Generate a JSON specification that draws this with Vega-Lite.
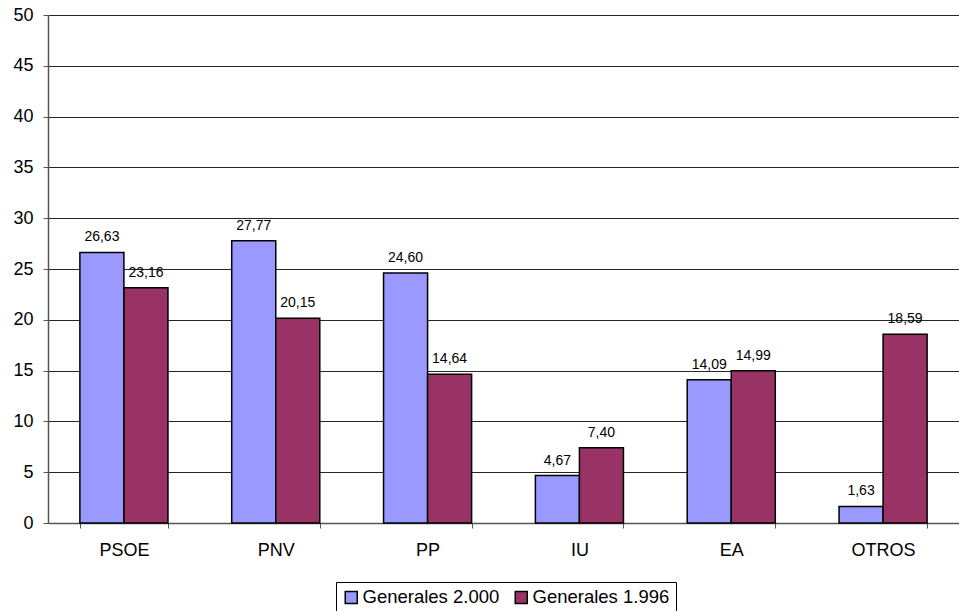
{
  "$schema": "https://vega.github.io/schema/vega-lite/v6.json",
  "width": 911,
  "height": 508,
  "autosize": {"type": "none"},
  "padding": {"left": 48, "top": 15, "right": 0, "bottom": 88},
  "background": "white",
  "config": {
    "font": "Liberation Sans",
    "view": {"stroke": null}
  },
  "data": {
    "values": [
      {"partido": "PSOE", "serie": "Generales 2.000", "valor": 26.63, "etiqueta": "26,63"},
      {"partido": "PSOE", "serie": "Generales 1.996", "valor": 23.16, "etiqueta": "23,16"},
      {"partido": "PNV", "serie": "Generales 2.000", "valor": 27.77, "etiqueta": "27,77"},
      {"partido": "PNV", "serie": "Generales 1.996", "valor": 20.15, "etiqueta": "20,15"},
      {"partido": "PP", "serie": "Generales 2.000", "valor": 24.60, "etiqueta": "24,60"},
      {"partido": "PP", "serie": "Generales 1.996", "valor": 14.64, "etiqueta": "14,64"},
      {"partido": "IU", "serie": "Generales 2.000", "valor": 4.67, "etiqueta": "4,67"},
      {"partido": "IU", "serie": "Generales 1.996", "valor": 7.40, "etiqueta": "7,40"},
      {"partido": "EA", "serie": "Generales 2.000", "valor": 14.09, "etiqueta": "14,09"},
      {"partido": "EA", "serie": "Generales 1.996", "valor": 14.99, "etiqueta": "14,99"},
      {"partido": "OTROS", "serie": "Generales 2.000", "valor": 1.63, "etiqueta": "1,63"},
      {"partido": "OTROS", "serie": "Generales 1.996", "valor": 18.59, "etiqueta": "18,59"}
    ]
  },
  "encoding": {
    "x": {
      "field": "partido",
      "type": "nominal",
      "sort": ["PSOE", "PNV", "PP", "IU", "EA", "OTROS"],
      "scale": {"paddingInner": 0.42, "paddingOuter": 0.21},
      "axis": {
        "title": null,
        "labelAngle": 0,
        "labelFontSize": 18,
        "labelColor": "black",
        "labelPadding": 13,
        "domainColor": "#555",
        "domainWidth": 1.5,
        "tickColor": "#555",
        "tickSize": 5,
        "bandPosition": 0,
        "tickBand": "extent",
        "grid": false
      }
    },
    "xOffset": {
      "field": "serie",
      "type": "nominal",
      "sort": ["Generales 2.000", "Generales 1.996"],
      "scale": {"paddingInner": 0}
    },
    "y": {
      "field": "valor",
      "type": "quantitative",
      "scale": {"domain": [0, 50]},
      "axis": {
        "title": null,
        "values": [0, 5, 10, 15, 20, 25, 30, 35, 40, 45, 50],
        "labelFontSize": 18,
        "labelColor": "black",
        "labelPadding": 10,
        "domainColor": "#555",
        "domainWidth": 1.5,
        "tickColor": "#555",
        "tickSize": 5,
        "gridColor": "black",
        "gridWidth": 1,
        "gridOpacity": 0.85
      }
    }
  },
  "layer": [
    {
      "mark": {"type": "bar", "stroke": "black", "strokeWidth": 1.5},
      "encoding": {
        "color": {
          "field": "serie",
          "type": "nominal",
          "sort": ["Generales 2.000", "Generales 1.996"],
          "scale": {"domain": ["Generales 2.000", "Generales 1.996"], "range": ["#9999FF", "#993366"]},
          "legend": {
            "title": null,
            "orient": "none",
            "direction": "horizontal",
            "legendX": 288,
            "legendY": 567,
            "symbolType": "square",
            "symbolSize": 144,
            "symbolStrokeColor": "black",
            "symbolStrokeWidth": 1.5,
            "symbolOpacity": 1,
            "labelFontSize": 18.5,
            "labelColor": "black",
            "labelOffset": 2,
            "columnPadding": 12,
            "strokeColor": "black",
            "padding": 6,
            "fillColor": "white"
          }
        }
      }
    },
    {
      "mark": {"type": "text", "baseline": "alphabetic", "dy": -11, "fontSize": 14, "color": "black"},
      "encoding": {
        "text": {"field": "etiqueta"}
      }
    }
  ]
}
